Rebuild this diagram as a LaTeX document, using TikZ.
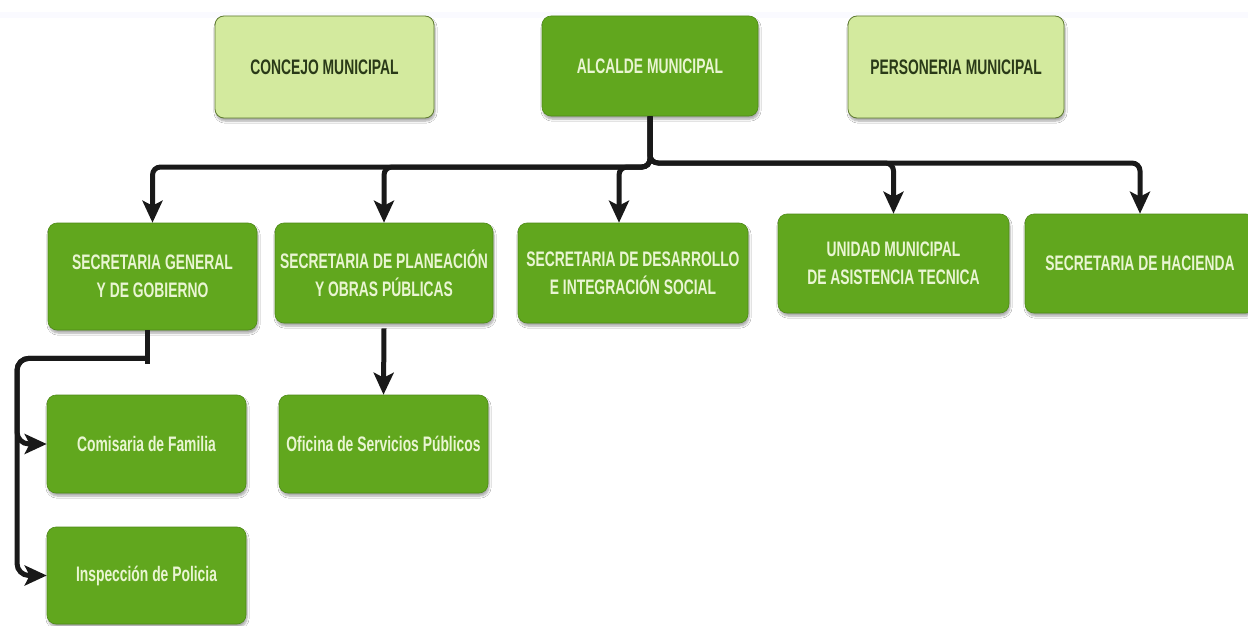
\documentclass[tikz,border=0pt]{standalone}
\usepackage{fontspec}
\setmainfont{Liberation Sans}[FakeStretch=0.66]
\usetikzlibrary{arrows.meta,shadows.blur,calc}
\definecolor{mg}{HTML}{61A71E}
\definecolor{mgb}{HTML}{4E8A18}
\definecolor{lg}{HTML}{D3EA9E}
\definecolor{lgb}{HTML}{5E7A30}
\definecolor{tw}{HTML}{E9F5D2}
\definecolor{td}{HTML}{2A3A18}
\tikzset{
  base/.style={rounded corners=9pt, align=center, inner sep=0pt,
    font=\fontsize{21}{28}\selectfont\bfseries,
    blur shadow={shadow xshift=1pt, shadow yshift=-3pt, shadow opacity=35, shadow blur steps=6}},
  dark/.style={base, fill=mg, draw=mgb, line width=0.6pt, text=tw},
  light/.style={base, fill=lg, draw=lgb, line width=0.8pt, text=td},
  conn/.style={line width=5pt, draw=black!90, rounded corners=8pt},
  arr/.style={conn, -{Stealth[length=22pt,width=20pt,inset=5pt]}},
}
\begin{document}
\begin{tikzpicture}[x=1pt,y=-1pt]
\useasboundingbox (0,0) rectangle (1248,626);
\fill[white] (0,0) rectangle (1248,626);
\fill[blue!2] (0,12) rectangle (1248,18);
% top row
\node[light, minimum width=219pt, minimum height=102pt] (con) at (324.5,67) {CONCEJO MUNICIPAL};
\node[dark, minimum width=216pt, minimum height=100pt] (alc) at (650,66) {ALCALDE MUNICIPAL};
\node[light, minimum width=216pt, minimum height=102pt] (per) at (956,67) {PERSONERIA MUNICIPAL};
% second row
\node[dark, minimum width=209pt, minimum height=107pt] (sg) at (152.5,276.5) {SECRETARIA GENERAL\\Y DE GOBIERNO};
\node[dark, minimum width=218pt, minimum height=100pt] (pl) at (384,273) {SECRETARIA DE PLANEACIÓN\\Y OBRAS PÚBLICAS};
\node[dark, minimum width=230pt, minimum height=100pt] (de) at (633,273) {SECRETARIA DE DESARROLLO\\E INTEGRACIÓN SOCIAL};
\node[dark, minimum width=231pt, minimum height=99pt] (un) at (893.5,263.5) {UNIDAD MUNICIPAL\\DE ASISTENCIA TECNICA};
\node[dark, minimum width=230pt, minimum height=99pt] (ha) at (1140,263.5) {SECRETARIA DE HACIENDA};
% third row
\node[dark, minimum width=199pt, minimum height=98pt] (cf) at (146.5,444) {Comisaria de Familia};
\node[dark, minimum width=209pt, minimum height=98pt] (of) at (383.5,444) {Oficina de Servicios Públicos};
\node[dark, minimum width=199pt, minimum height=97pt] (ip) at (146.5,575.5) {Inspección de Policia};
% connectors
\coordinate (bl) at (0,167);
\coordinate (br) at (0,163);
\coordinate (dtop) at ([xshift=-14pt]de.north);
\draw[arr] (alc.south) |- (sg.north |- bl) -- (sg.north);
\draw[arr] (alc.south) |- (pl.north |- bl) -- (pl.north);
\draw[arr] (alc.south) |- (dtop |- bl) -- (dtop);
\draw[arr] (alc.south) |- (un.north |- br) -- (un.north);
\draw[arr] (alc.south) |- (ha.north |- br) -- (ha.north);
\draw[arr] ([yshift=-5pt]pl.south) -- (of.north);
\coordinate (gs) at ([xshift=-5pt]sg.south);
\coordinate (gt) at ($(gs)+(0,28)$);
\coordinate (vx) at (17,0);
\draw[conn, rounded corners=0pt] (gs) -- ($(gt)+(0,6)$);
\draw[arr, rounded corners=12pt] (gt) -| (vx |- cf.west) -- (cf.west);
\draw[arr, rounded corners=12pt] (gt) -| (vx |- ip.west) -- (ip.west);
\end{tikzpicture}
\end{document}
